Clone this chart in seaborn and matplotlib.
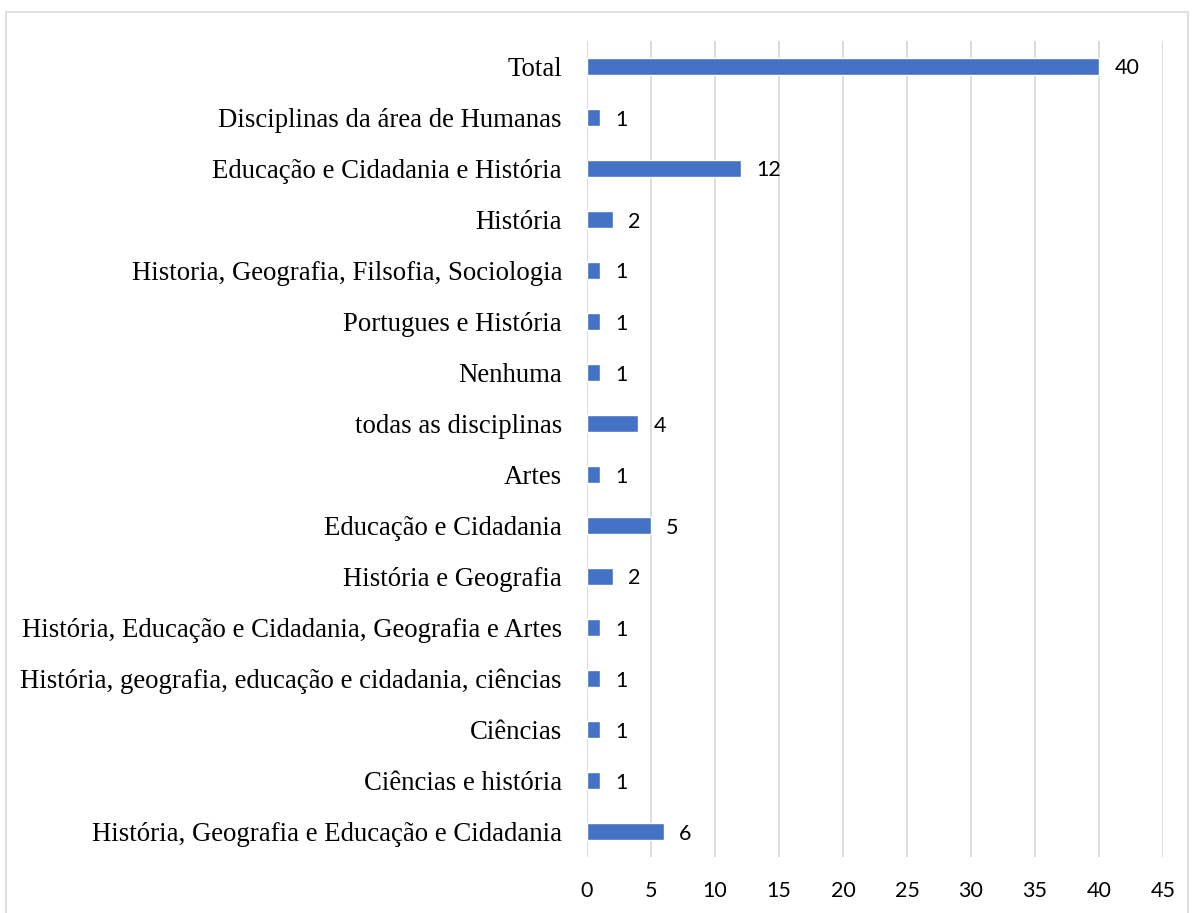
import matplotlib
matplotlib.use("Agg")
import matplotlib.pyplot as plt
import seaborn as sns
import pandas as pd
from matplotlib.patches import Rectangle

# --- data (top to bottom as in the chart)
categorias = [
    "Total",
    "Disciplinas da área de Humanas",
    "Educação e Cidadania e História",
    "História",
    "Historia, Geografia, Filsofia, Sociologia",
    "Portugues e História",
    "Nenhuma",
    "todas as disciplinas",
    "Artes",
    "Educação e Cidadania",
    "História e Geografia",
    "História, Educação e Cidadania, Geografia e Artes",
    "História, geografia, educação e cidadania, ciências",
    "Ciências",
    "Ciências e história",
    "História, Geografia e Educação e Cidadania",
]
valores = [40, 1, 12, 2, 1, 1, 1, 4, 1, 5, 2, 1, 1, 1, 1, 6]
x_ticks = [0, 5, 10, 15, 20, 25, 30, 35, 40, 45]

df = pd.DataFrame({"disciplina": categorias, "n": valores})

sns.set_style("white")
fig = plt.figure(figsize=(11.92, 9.13), dpi=100)
ax = fig.add_axes([587 / 1192, 1 - 857 / 913, (1163 - 587) / 1192, (857 - 41) / 913])

sns.barplot(data=df, x="n", y="disciplina", color="#4472C4", width=0.35,
            saturation=1, ax=ax, orient="h")

ax.set_xlim(0, 45)
ax.set_xticks(x_ticks)
ax.grid(axis="x", color="#d9d9d9", linewidth=1.3)
ax.set_axisbelow(True)
for s in ax.spines.values():
    s.set_visible(False)
ax.set_xlabel("")
ax.set_ylabel("")
ax.tick_params(axis="both", length=0)
ax.tick_params(axis="y", pad=18)
ax.tick_params(axis="x", pad=17)

for lbl in ax.get_yticklabels():
    lbl.set_fontfamily("Liberation Serif")
    lbl.set_fontsize(19.3)
    lbl.set_color("#000000")
for lbl in ax.get_xticklabels():
    lbl.set_fontfamily("Lato")
    lbl.set_fontsize(15.5)
    lbl.set_color("#000000")

for cont in ax.containers:
    labs = ax.bar_label(cont, padding=11, fontsize=15.5, family="Lato", color="#000000")
    for t in labs:
        t.set_verticalalignment("center_baseline")

# outer chart border
fig.patches.append(Rectangle((6 / 1192, -0.01), (1188 - 6) / 1192, 1 - 12 / 913 + 0.01,
                             transform=fig.transFigure, fill=False,
                             edgecolor="#d9d9d9", linewidth=1.2))

fig.savefig("out.png", dpi=100, facecolor="white")
